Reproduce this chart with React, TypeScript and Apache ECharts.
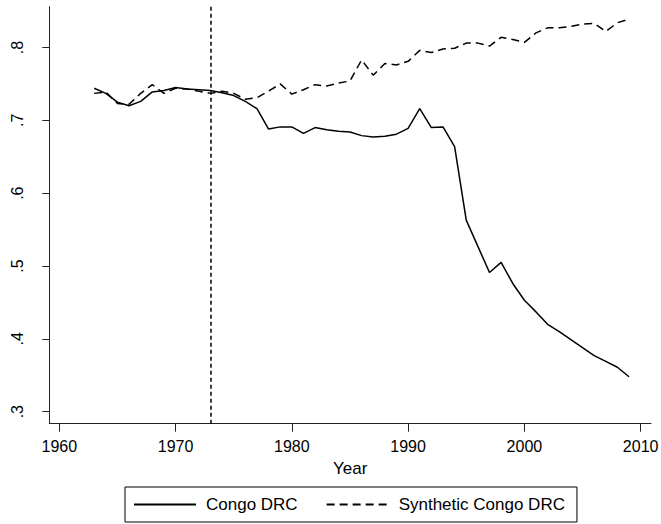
import React, { useEffect, useRef } from "react";
import * as echarts from "echarts";

const years = [
  1963, 1964, 1965, 1966, 1967, 1968, 1969, 1970, 1971, 1972, 1973, 1974, 1975, 1976, 1977, 1978,
  1979, 1980, 1981, 1982, 1983, 1984, 1985, 1986, 1987, 1988, 1989, 1990, 1991, 1992, 1993, 1994,
  1995, 1996, 1997, 1998, 1999, 2000, 2001, 2002, 2003, 2004, 2005, 2006, 2007, 2008, 2009,
];

const congo = [
  0.744, 0.737, 0.725, 0.72, 0.726, 0.739, 0.741, 0.745, 0.743, 0.742, 0.741, 0.738, 0.734, 0.726,
  0.716, 0.688, 0.691, 0.691, 0.682, 0.69, 0.687, 0.685, 0.684, 0.679, 0.677, 0.678, 0.681, 0.689,
  0.716, 0.69, 0.691, 0.664, 0.563, 0.527, 0.491, 0.505, 0.476, 0.453, 0.437, 0.42, 0.41, 0.399,
  0.388, 0.377, 0.369, 0.361, 0.348,
];

const synthetic = [
  0.737, 0.739, 0.723, 0.722, 0.737, 0.749, 0.737, 0.744, 0.743, 0.74, 0.737, 0.74, 0.737, 0.729,
  0.731, 0.74, 0.75, 0.736, 0.742, 0.749, 0.747, 0.751, 0.754, 0.783, 0.762, 0.778, 0.776, 0.781,
  0.796, 0.793, 0.798, 0.799, 0.806, 0.806, 0.802, 0.814, 0.811, 0.807, 0.82, 0.827, 0.827, 0.829,
  0.832, 0.833, 0.822, 0.834, 0.839,
];

const xTicks = [1960, 1970, 1980, 1990, 2000, 2010];
const yTicks = [0.3, 0.4, 0.5, 0.6, 0.7, 0.8];
const treatmentYear = 1973;

const FONT = "Liberation Sans, Arial, Helvetica, sans-serif";

export default function App() {
  const ref = useRef<HTMLDivElement>(null);

  useEffect(() => {
    if (!ref.current) return;
    const chart = echarts.init(ref.current, undefined, { renderer: "svg" });
    const axisColor = "#222";
    chart.setOption({
      animation: false,
      backgroundColor: "#fff",
      textStyle: { fontFamily: FONT },
      grid: {
        left: 49.3,
        right: 10,
        top: 6.7,
        bottom: 100.3,
        containLabel: false,
        outerBoundsMode: "none",
      },
      xAxis: {
        type: "value",
        min: 1959.14,
        max: 2010.89,
        name: "Year",
        nameLocation: "middle",
        nameGap: 36,
        nameTextStyle: { fontSize: 17, color: "#000", fontFamily: FONT },
        axisLine: { show: true, lineStyle: { color: axisColor, width: 1 } },
        axisTick: {
          show: true,
          length: 8,
          customValues: xTicks,
          lineStyle: { color: axisColor, width: 1 },
        },
        axisLabel: {
          customValues: xTicks,
          fontSize: 16,
          color: "#000",
          margin: 15,
          fontFamily: FONT,
          formatter: (v: number) => String(Math.round(v)),
        },
        splitLine: { show: false },
      },
      yAxis: {
        type: "value",
        min: 0.2835,
        max: 0.856,
        axisLine: { show: true, lineStyle: { color: axisColor, width: 1 } },
        axisTick: {
          show: true,
          length: 7,
          customValues: yTicks,
          lineStyle: { color: axisColor, width: 1 },
        },
        axisLabel: {
          customValues: yTicks,
          fontSize: 16,
          color: "#000",
          rotate: 90,
          margin: 24,
          fontFamily: FONT,
          formatter: (v: number) => v.toFixed(1).slice(1),
        },
        splitLine: { show: false },
      },
      legend: {
        left: 125,
        top: 487,
        width: 451,
        height: 36,
        padding: [9, 12, 9, 8],
        borderColor: "#000",
        borderWidth: 1,
        itemWidth: 62,
        itemHeight: 14,
        itemGap: 28,
        itemStyle: { color: "transparent", borderColor: "transparent", borderWidth: 0, opacity: 0 },
        textStyle: { fontSize: 17, color: "#000", fontFamily: FONT, padding: [0, 0, 0, 5] },
        data: ["Congo DRC", "Synthetic Congo DRC"],
      },
      series: [
        {
          name: "Congo DRC",
          type: "line",
          data: years.map((y, i) => [y, congo[i]]),
          symbol: "none",
          lineStyle: { color: "#000", width: 1.5, type: "solid" },
          itemStyle: { color: "#000" },
          markLine: {
            silent: true,
            symbol: "none",
            label: { show: false },
            lineStyle: { color: "#000", width: 1.5, type: [4, 3] },
            data: [{ xAxis: treatmentYear }],
          },
        },
        {
          name: "Synthetic Congo DRC",
          type: "line",
          data: years.map((y, i) => [y, synthetic[i]]),
          symbol: "none",
          lineStyle: { color: "#000", width: 1.5, type: [8, 5] },
          itemStyle: { color: "#000" },
        },
      ],
    });
    return () => chart.dispose();
  }, []);

  return (
    <div
      ref={ref}
      style={{ position: "fixed", left: 0, top: 0, width: 661, height: 524, background: "#fff" }}
    />
  );
}
